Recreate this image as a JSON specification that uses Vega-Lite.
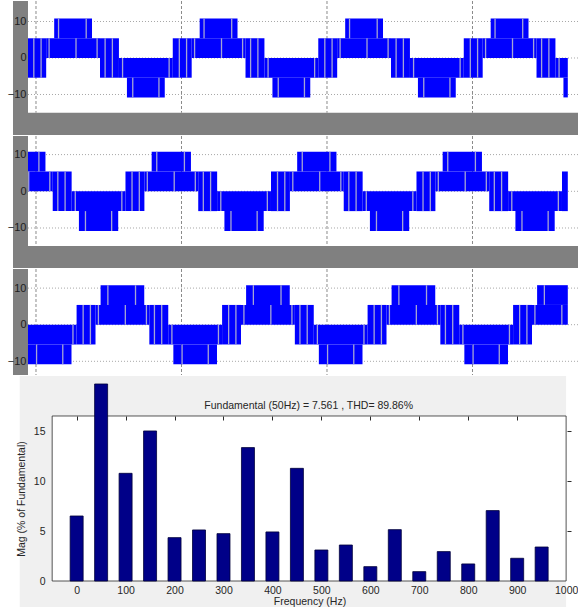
{
  "$schema": "https://vega.github.io/schema/vega-lite/v6.json",
  "background": "white",
  "padding": 0,
  "spacing": 0,
  "config": {"font": "Liberation Sans", "view": {"stroke": null}, "axis": {"zindex": 1}},
  "datasets": {
    "gridt": [{"t": 0}, {"t": 1}, {"t": 2}, {"t": 3}],
    "gridy": [{"v": 10}, {"v": 0}, {"v": -10}],
    "blocks": [
      {"p":1,"a":-0.055,"b":0.07,"lo":-5.4,"hi":5.4},
      {"p":1,"a":0.07,"b":0.44,"lo":0,"hi":5.4},
      {"p":1,"a":0.125,"b":0.385,"lo":5.4,"hi":10.8},
      {"p":1,"a":0.44,"b":0.57,"lo":-5.4,"hi":5.4},
      {"p":1,"a":0.57,"b":0.94,"lo":-5.4,"hi":0},
      {"p":1,"a":0.625,"b":0.885,"lo":-10.8,"hi":-5.4},
      {"p":1,"a":0.94,"b":1.07,"lo":-5.4,"hi":5.4},
      {"p":1,"a":1.07,"b":1.44,"lo":0,"hi":5.4},
      {"p":1,"a":1.125,"b":1.385,"lo":5.4,"hi":10.8},
      {"p":1,"a":1.44,"b":1.57,"lo":-5.4,"hi":5.4},
      {"p":1,"a":1.57,"b":1.94,"lo":-5.4,"hi":0},
      {"p":1,"a":1.625,"b":1.885,"lo":-10.8,"hi":-5.4},
      {"p":1,"a":1.94,"b":2.07,"lo":-5.4,"hi":5.4},
      {"p":1,"a":2.07,"b":2.44,"lo":0,"hi":5.4},
      {"p":1,"a":2.125,"b":2.385,"lo":5.4,"hi":10.8},
      {"p":1,"a":2.44,"b":2.57,"lo":-5.4,"hi":5.4},
      {"p":1,"a":2.57,"b":2.94,"lo":-5.4,"hi":0},
      {"p":1,"a":2.625,"b":2.885,"lo":-10.8,"hi":-5.4},
      {"p":1,"a":2.94,"b":3.07,"lo":-5.4,"hi":5.4},
      {"p":1,"a":3.07,"b":3.44,"lo":0,"hi":5.4},
      {"p":1,"a":3.125,"b":3.385,"lo":5.4,"hi":10.8},
      {"p":1,"a":3.44,"b":3.57,"lo":-5.4,"hi":5.4},
      {"p":1,"a":3.57,"b":3.655,"lo":-5.4,"hi":0},
      {"p":1,"a":3.625,"b":3.655,"lo":-10.8,"hi":-5.4},
      {"p":2,"a":-0.055,"b":0.115,"lo":0,"hi":5.4},
      {"p":2,"a":-0.055,"b":0.065,"lo":5.4,"hi":10.8},
      {"p":2,"a":0.115,"b":0.245,"lo":-5.4,"hi":5.4},
      {"p":2,"a":0.245,"b":0.615,"lo":-5.4,"hi":0},
      {"p":2,"a":0.295,"b":0.565,"lo":-10.8,"hi":-5.4},
      {"p":2,"a":0.615,"b":0.745,"lo":-5.4,"hi":5.4},
      {"p":2,"a":0.745,"b":1.115,"lo":0,"hi":5.4},
      {"p":2,"a":0.795,"b":1.065,"lo":5.4,"hi":10.8},
      {"p":2,"a":1.115,"b":1.245,"lo":-5.4,"hi":5.4},
      {"p":2,"a":1.245,"b":1.615,"lo":-5.4,"hi":0},
      {"p":2,"a":1.295,"b":1.565,"lo":-10.8,"hi":-5.4},
      {"p":2,"a":1.615,"b":1.745,"lo":-5.4,"hi":5.4},
      {"p":2,"a":1.745,"b":2.115,"lo":0,"hi":5.4},
      {"p":2,"a":1.795,"b":2.065,"lo":5.4,"hi":10.8},
      {"p":2,"a":2.115,"b":2.245,"lo":-5.4,"hi":5.4},
      {"p":2,"a":2.245,"b":2.615,"lo":-5.4,"hi":0},
      {"p":2,"a":2.295,"b":2.565,"lo":-10.8,"hi":-5.4},
      {"p":2,"a":2.615,"b":2.745,"lo":-5.4,"hi":5.4},
      {"p":2,"a":2.745,"b":3.115,"lo":0,"hi":5.4},
      {"p":2,"a":2.795,"b":3.065,"lo":5.4,"hi":10.8},
      {"p":2,"a":3.115,"b":3.245,"lo":-5.4,"hi":5.4},
      {"p":2,"a":3.245,"b":3.615,"lo":-5.4,"hi":0},
      {"p":2,"a":3.295,"b":3.565,"lo":-10.8,"hi":-5.4},
      {"p":2,"a":3.615,"b":3.655,"lo":-5.4,"hi":5.4},
      {"p":3,"a":-0.055,"b":0.279,"lo":-5.4,"hi":0},
      {"p":3,"a":-0.055,"b":0.244,"lo":-10.8,"hi":-5.4},
      {"p":3,"a":0.279,"b":0.409,"lo":-5.4,"hi":5.4},
      {"p":3,"a":0.409,"b":0.779,"lo":0,"hi":5.4},
      {"p":3,"a":0.444,"b":0.744,"lo":5.4,"hi":10.8},
      {"p":3,"a":0.779,"b":0.909,"lo":-5.4,"hi":5.4},
      {"p":3,"a":0.909,"b":1.279,"lo":-5.4,"hi":0},
      {"p":3,"a":0.944,"b":1.244,"lo":-10.8,"hi":-5.4},
      {"p":3,"a":1.279,"b":1.409,"lo":-5.4,"hi":5.4},
      {"p":3,"a":1.409,"b":1.779,"lo":0,"hi":5.4},
      {"p":3,"a":1.444,"b":1.744,"lo":5.4,"hi":10.8},
      {"p":3,"a":1.779,"b":1.909,"lo":-5.4,"hi":5.4},
      {"p":3,"a":1.909,"b":2.279,"lo":-5.4,"hi":0},
      {"p":3,"a":1.944,"b":2.244,"lo":-10.8,"hi":-5.4},
      {"p":3,"a":2.279,"b":2.409,"lo":-5.4,"hi":5.4},
      {"p":3,"a":2.409,"b":2.779,"lo":0,"hi":5.4},
      {"p":3,"a":2.444,"b":2.744,"lo":5.4,"hi":10.8},
      {"p":3,"a":2.779,"b":2.909,"lo":-5.4,"hi":5.4},
      {"p":3,"a":2.909,"b":3.279,"lo":-5.4,"hi":0},
      {"p":3,"a":2.944,"b":3.244,"lo":-10.8,"hi":-5.4},
      {"p":3,"a":3.279,"b":3.409,"lo":-5.4,"hi":5.4},
      {"p":3,"a":3.409,"b":3.655,"lo":0,"hi":5.4},
      {"p":3,"a":3.444,"b":3.655,"lo":5.4,"hi":10.8}
    ],
    "stripes": [
      {"p":1,"t":-0.015,"lo":-5.4,"hi":5.4},{"p":1,"t":0.035,"lo":-5.4,"hi":5.4},
      {"p":1,"t":0.155,"lo":5.4,"hi":10.8},{"p":1,"t":0.345,"lo":5.4,"hi":10.8},{"p":1,"t":0.09,"lo":0,"hi":5.4},{"p":1,"t":0.42,"lo":0,"hi":5.4},{"p":1,"t":0.275,"lo":0,"hi":5.4},{"p":1,"t":0.475,"lo":-5.4,"hi":5.4},{"p":1,"t":0.525,"lo":-5.4,"hi":5.4},{"p":1,"t":0.595,"lo":-5.4,"hi":0},{"p":1,"t":0.915,"lo":-5.4,"hi":0},{"p":1,"t":0.665,"lo":-10.8,"hi":-5.4},{"p":1,"t":0.845,"lo":-10.8,"hi":-5.4},{"p":1,"t":0.985,"lo":-5.4,"hi":5.4},{"p":1,"t":1.035,"lo":-5.4,"hi":5.4},
      {"p":1,"t":1.155,"lo":5.4,"hi":10.8},{"p":1,"t":1.345,"lo":5.4,"hi":10.8},{"p":1,"t":1.09,"lo":0,"hi":5.4},{"p":1,"t":1.42,"lo":0,"hi":5.4},{"p":1,"t":1.275,"lo":0,"hi":5.4},{"p":1,"t":1.475,"lo":-5.4,"hi":5.4},{"p":1,"t":1.525,"lo":-5.4,"hi":5.4},{"p":1,"t":1.595,"lo":-5.4,"hi":0},{"p":1,"t":1.915,"lo":-5.4,"hi":0},{"p":1,"t":1.665,"lo":-10.8,"hi":-5.4},{"p":1,"t":1.845,"lo":-10.8,"hi":-5.4},{"p":1,"t":1.985,"lo":-5.4,"hi":5.4},{"p":1,"t":2.035,"lo":-5.4,"hi":5.4},
      {"p":1,"t":2.155,"lo":5.4,"hi":10.8},{"p":1,"t":2.345,"lo":5.4,"hi":10.8},{"p":1,"t":2.09,"lo":0,"hi":5.4},{"p":1,"t":2.42,"lo":0,"hi":5.4},{"p":1,"t":2.275,"lo":0,"hi":5.4},{"p":1,"t":2.475,"lo":-5.4,"hi":5.4},{"p":1,"t":2.525,"lo":-5.4,"hi":5.4},{"p":1,"t":2.595,"lo":-5.4,"hi":0},{"p":1,"t":2.915,"lo":-5.4,"hi":0},{"p":1,"t":2.665,"lo":-10.8,"hi":-5.4},{"p":1,"t":2.845,"lo":-10.8,"hi":-5.4},{"p":1,"t":2.985,"lo":-5.4,"hi":5.4},{"p":1,"t":3.035,"lo":-5.4,"hi":5.4},
      {"p":1,"t":3.155,"lo":5.4,"hi":10.8},{"p":1,"t":3.345,"lo":5.4,"hi":10.8},{"p":1,"t":3.09,"lo":0,"hi":5.4},{"p":1,"t":3.42,"lo":0,"hi":5.4},{"p":1,"t":3.275,"lo":0,"hi":5.4},{"p":1,"t":3.475,"lo":-5.4,"hi":5.4},{"p":1,"t":3.525,"lo":-5.4,"hi":5.4},{"p":1,"t":3.595,"lo":-5.4,"hi":0},
      {"p":2,"t":0.02,"lo":5.4,"hi":10.8},{"p":2,"t":0.095,"lo":0,"hi":5.4},{"p":2,"t":-0.05,"lo":0,"hi":5.4},{"p":2,"t":0.15,"lo":-5.4,"hi":5.4},{"p":2,"t":0.2,"lo":-5.4,"hi":5.4},{"p":2,"t":0.27,"lo":-5.4,"hi":0},{"p":2,"t":0.59,"lo":-5.4,"hi":0},{"p":2,"t":0.34,"lo":-10.8,"hi":-5.4},{"p":2,"t":0.52,"lo":-10.8,"hi":-5.4},{"p":2,"t":0.66,"lo":-5.4,"hi":5.4},{"p":2,"t":0.71,"lo":-5.4,"hi":5.4},
      {"p":2,"t":0.83,"lo":5.4,"hi":10.8},{"p":2,"t":1.02,"lo":5.4,"hi":10.8},{"p":2,"t":0.765,"lo":0,"hi":5.4},{"p":2,"t":1.095,"lo":0,"hi":5.4},{"p":2,"t":0.95,"lo":0,"hi":5.4},{"p":2,"t":1.15,"lo":-5.4,"hi":5.4},{"p":2,"t":1.2,"lo":-5.4,"hi":5.4},{"p":2,"t":1.27,"lo":-5.4,"hi":0},{"p":2,"t":1.59,"lo":-5.4,"hi":0},{"p":2,"t":1.34,"lo":-10.8,"hi":-5.4},{"p":2,"t":1.52,"lo":-10.8,"hi":-5.4},{"p":2,"t":1.66,"lo":-5.4,"hi":5.4},{"p":2,"t":1.71,"lo":-5.4,"hi":5.4},
      {"p":2,"t":1.83,"lo":5.4,"hi":10.8},{"p":2,"t":2.02,"lo":5.4,"hi":10.8},{"p":2,"t":1.765,"lo":0,"hi":5.4},{"p":2,"t":2.095,"lo":0,"hi":5.4},{"p":2,"t":1.95,"lo":0,"hi":5.4},{"p":2,"t":2.15,"lo":-5.4,"hi":5.4},{"p":2,"t":2.2,"lo":-5.4,"hi":5.4},{"p":2,"t":2.27,"lo":-5.4,"hi":0},{"p":2,"t":2.59,"lo":-5.4,"hi":0},{"p":2,"t":2.34,"lo":-10.8,"hi":-5.4},{"p":2,"t":2.52,"lo":-10.8,"hi":-5.4},{"p":2,"t":2.66,"lo":-5.4,"hi":5.4},{"p":2,"t":2.71,"lo":-5.4,"hi":5.4},
      {"p":2,"t":2.83,"lo":5.4,"hi":10.8},{"p":2,"t":3.02,"lo":5.4,"hi":10.8},{"p":2,"t":2.765,"lo":0,"hi":5.4},{"p":2,"t":3.095,"lo":0,"hi":5.4},{"p":2,"t":2.95,"lo":0,"hi":5.4},{"p":2,"t":3.15,"lo":-5.4,"hi":5.4},{"p":2,"t":3.2,"lo":-5.4,"hi":5.4},{"p":2,"t":3.27,"lo":-5.4,"hi":0},{"p":2,"t":3.59,"lo":-5.4,"hi":0},{"p":2,"t":3.34,"lo":-10.8,"hi":-5.4},{"p":2,"t":3.52,"lo":-10.8,"hi":-5.4},
      {"p":3,"t":0.254,"lo":-5.4,"hi":0},{"p":3,"t":0.004,"lo":-10.8,"hi":-5.4},{"p":3,"t":0.184,"lo":-10.8,"hi":-5.4},{"p":3,"t":0.324,"lo":-5.4,"hi":5.4},{"p":3,"t":0.374,"lo":-5.4,"hi":5.4},
      {"p":3,"t":0.494,"lo":5.4,"hi":10.8},{"p":3,"t":0.684,"lo":5.4,"hi":10.8},{"p":3,"t":0.429,"lo":0,"hi":5.4},{"p":3,"t":0.759,"lo":0,"hi":5.4},{"p":3,"t":0.614,"lo":0,"hi":5.4},{"p":3,"t":0.814,"lo":-5.4,"hi":5.4},{"p":3,"t":0.864,"lo":-5.4,"hi":5.4},{"p":3,"t":0.934,"lo":-5.4,"hi":0},{"p":3,"t":1.254,"lo":-5.4,"hi":0},{"p":3,"t":1.004,"lo":-10.8,"hi":-5.4},{"p":3,"t":1.184,"lo":-10.8,"hi":-5.4},{"p":3,"t":1.324,"lo":-5.4,"hi":5.4},{"p":3,"t":1.374,"lo":-5.4,"hi":5.4},
      {"p":3,"t":1.494,"lo":5.4,"hi":10.8},{"p":3,"t":1.684,"lo":5.4,"hi":10.8},{"p":3,"t":1.429,"lo":0,"hi":5.4},{"p":3,"t":1.759,"lo":0,"hi":5.4},{"p":3,"t":1.614,"lo":0,"hi":5.4},{"p":3,"t":1.814,"lo":-5.4,"hi":5.4},{"p":3,"t":1.864,"lo":-5.4,"hi":5.4},{"p":3,"t":1.934,"lo":-5.4,"hi":0},{"p":3,"t":2.254,"lo":-5.4,"hi":0},{"p":3,"t":2.004,"lo":-10.8,"hi":-5.4},{"p":3,"t":2.184,"lo":-10.8,"hi":-5.4},{"p":3,"t":2.324,"lo":-5.4,"hi":5.4},{"p":3,"t":2.374,"lo":-5.4,"hi":5.4},
      {"p":3,"t":2.494,"lo":5.4,"hi":10.8},{"p":3,"t":2.684,"lo":5.4,"hi":10.8},{"p":3,"t":2.429,"lo":0,"hi":5.4},{"p":3,"t":2.759,"lo":0,"hi":5.4},{"p":3,"t":2.614,"lo":0,"hi":5.4},{"p":3,"t":2.814,"lo":-5.4,"hi":5.4},{"p":3,"t":2.864,"lo":-5.4,"hi":5.4},{"p":3,"t":2.934,"lo":-5.4,"hi":0},{"p":3,"t":3.254,"lo":-5.4,"hi":0},{"p":3,"t":3.004,"lo":-10.8,"hi":-5.4},{"p":3,"t":3.184,"lo":-10.8,"hi":-5.4},{"p":3,"t":3.324,"lo":-5.4,"hi":5.4},{"p":3,"t":3.374,"lo":-5.4,"hi":5.4},
      {"p":3,"t":3.494,"lo":5.4,"hi":10.8},{"p":3,"t":3.429,"lo":0,"hi":5.4},{"p":3,"t":3.614,"lo":0,"hi":5.4}
    ],
    "fft": [
      {"f":0,"mag":6.52},{"f":50,"mag":19.76},{"f":100,"mag":10.8},{"f":150,"mag":15.05},
      {"f":200,"mag":4.35},{"f":250,"mag":5.12},{"f":300,"mag":4.75},{"f":350,"mag":13.38},
      {"f":400,"mag":4.92},{"f":450,"mag":11.3},{"f":500,"mag":3.11},{"f":550,"mag":3.61},
      {"f":600,"mag":1.44},{"f":650,"mag":5.15},{"f":700,"mag":0.94},{"f":750,"mag":2.95},
      {"f":800,"mag":1.71},{"f":850,"mag":7.06},{"f":900,"mag":2.28},{"f":950,"mag":3.41}
    ]
  },
  "vconcat": [
    {
      "spacing": 0,
      "vconcat": [
        {
          "width": 578, "height": 134,
          "view": {"fill": "#808080", "stroke": null},
          "resolve": {"axis": {"x": "independent", "y": "independent"}},
          "layer": [
            {"data": {"values": [{}]}, "mark": {"type": "rect", "color": "white"},
             "encoding": {
               "x": {"datum": -0.055, "type": "quantitative", "scale": {"domain": [-0.2474, 3.7251], "nice": false, "zero": false}, "axis": null},
               "x2": {"datum": 3.7251},
               "y": {"datum": 15.616, "type": "quantitative", "scale": {"domain": [-21.096, 15.616], "nice": false, "zero": false},
                     "axis": {"orient": "left", "offset": -28, "values": [10, 0, -10], "tickSize": 0, "labelPadding": 2, "domain": false, "grid": false, "title": null, "labelFontSize": 11, "labelColor": "#1e1e1e", "labelFlush": false, "labelOverlap": false, "zindex": 2}},
               "y2": {"datum": -15}}},
            {"data": {"values": [{}]}, "mark": {"type": "rect", "color": "white"},
             "encoding": {
               "x": {"datum": -0.2474, "type": "quantitative", "scale": {"domain": [-0.2474, 3.7251], "nice": false, "zero": false}, "axis": null},
               "x2": {"datum": -0.1581},
               "y": {"datum": 15.616, "type": "quantitative", "scale": {"domain": [-21.096, 15.616], "nice": false, "zero": false}, "axis": null},
               "y2": {"datum": -21.096}}},
            {"data": {"name": "gridt"}, "mark": {"type": "rule", "color": "#8a8a8a", "strokeDash": [3, 2], "strokeWidth": 1},
             "encoding": {
               "x": {"field": "t", "type": "quantitative", "scale": {"domain": [-0.2474, 3.7251], "nice": false, "zero": false}, "axis": null},
               "y": {"datum": 15.616, "type": "quantitative", "scale": {"domain": [-21.096, 15.616], "nice": false, "zero": false}, "axis": null},
               "y2": {"datum": -15}}},
            {"data": {"name": "gridy"}, "mark": {"type": "rule", "color": "#a6a6a6", "strokeDash": [1, 2], "strokeWidth": 1},
             "encoding": {
               "y": {"field": "v", "type": "quantitative", "scale": {"domain": [-21.096, 15.616], "nice": false, "zero": false}, "axis": null},
               "x": {"datum": -0.055, "type": "quantitative", "scale": {"domain": [-0.2474, 3.7251], "nice": false, "zero": false}, "axis": null},
               "x2": {"datum": 3.7251}}},
            {"data": {"name": "blocks"}, "transform": [{"filter": "datum.p == 1"}], "mark": {"type": "rect", "color": "#0000ff"},
             "encoding": {
               "x": {"field": "a", "type": "quantitative", "scale": {"domain": [-0.2474, 3.7251], "nice": false, "zero": false}, "axis": null},
               "x2": {"field": "b"},
               "y": {"field": "lo", "type": "quantitative", "scale": {"domain": [-21.096, 15.616], "nice": false, "zero": false}, "axis": null},
               "y2": {"field": "hi"}}},
            {"data": {"name": "stripes"}, "transform": [{"filter": "datum.p == 1"}], "mark": {"type": "rule", "color": "#a4a4d4", "strokeWidth": 1.3},
             "encoding": {
               "x": {"field": "t", "type": "quantitative", "scale": {"domain": [-0.2474, 3.7251], "nice": false, "zero": false}, "axis": null},
               "y": {"field": "lo", "type": "quantitative", "scale": {"domain": [-21.096, 15.616], "nice": false, "zero": false}, "axis": null},
               "y2": {"field": "hi"}}}
          ]
        },
        {
          "width": 578, "height": 132,
          "view": {"fill": "#808080", "stroke": null},
          "resolve": {"axis": {"x": "independent", "y": "independent"}},
          "layer": [
            {"data": {"values": [{}]}, "mark": {"type": "rect", "color": "white"},
             "encoding": {
               "x": {"datum": -0.055, "type": "quantitative", "scale": {"domain": [-0.2474, 3.7251], "nice": false, "zero": false}, "axis": null},
               "x2": {"datum": 3.7251},
               "y": {"datum": 15.068, "type": "quantitative", "scale": {"domain": [-20.9, 15.068], "nice": false, "zero": false},
                     "axis": {"orient": "left", "offset": -28, "values": [10, 0, -10], "tickSize": 0, "labelPadding": 2, "domain": false, "grid": false, "title": null, "labelFontSize": 11, "labelColor": "#1e1e1e", "labelFlush": false, "labelOverlap": false, "zindex": 2}},
               "y2": {"datum": -14.905}}},
            {"data": {"values": [{}]}, "mark": {"type": "rect", "color": "white"},
             "encoding": {
               "x": {"datum": -0.2474, "type": "quantitative", "scale": {"domain": [-0.2474, 3.7251], "nice": false, "zero": false}, "axis": null},
               "x2": {"datum": -0.1581},
               "y": {"datum": 15.068, "type": "quantitative", "scale": {"domain": [-20.9, 15.068], "nice": false, "zero": false}, "axis": null},
               "y2": {"datum": -20.9}}},
            {"data": {"name": "gridt"}, "mark": {"type": "rule", "color": "#8a8a8a", "strokeDash": [3, 2], "strokeWidth": 1},
             "encoding": {
               "x": {"field": "t", "type": "quantitative", "scale": {"domain": [-0.2474, 3.7251], "nice": false, "zero": false}, "axis": null},
               "y": {"datum": 15.068, "type": "quantitative", "scale": {"domain": [-20.9, 15.068], "nice": false, "zero": false}, "axis": null},
               "y2": {"datum": -14.905}}},
            {"data": {"name": "gridy"}, "mark": {"type": "rule", "color": "#a6a6a6", "strokeDash": [1, 2], "strokeWidth": 1},
             "encoding": {
               "y": {"field": "v", "type": "quantitative", "scale": {"domain": [-20.9, 15.068], "nice": false, "zero": false}, "axis": null},
               "x": {"datum": -0.055, "type": "quantitative", "scale": {"domain": [-0.2474, 3.7251], "nice": false, "zero": false}, "axis": null},
               "x2": {"datum": 3.7251}}},
            {"data": {"name": "blocks"}, "transform": [{"filter": "datum.p == 2"}], "mark": {"type": "rect", "color": "#0000ff"},
             "encoding": {
               "x": {"field": "a", "type": "quantitative", "scale": {"domain": [-0.2474, 3.7251], "nice": false, "zero": false}, "axis": null},
               "x2": {"field": "b"},
               "y": {"field": "lo", "type": "quantitative", "scale": {"domain": [-20.9, 15.068], "nice": false, "zero": false}, "axis": null},
               "y2": {"field": "hi"}}},
            {"data": {"name": "stripes"}, "transform": [{"filter": "datum.p == 2"}], "mark": {"type": "rule", "color": "#a4a4d4", "strokeWidth": 1.3},
             "encoding": {
               "x": {"field": "t", "type": "quantitative", "scale": {"domain": [-0.2474, 3.7251], "nice": false, "zero": false}, "axis": null},
               "y": {"field": "lo", "type": "quantitative", "scale": {"domain": [-20.9, 15.068], "nice": false, "zero": false}, "axis": null},
               "y2": {"field": "hi"}}}
          ]
        },
        {
          "width": 578, "height": 106,
          "view": {"fill": "#808080", "stroke": null},
          "resolve": {"axis": {"x": "independent", "y": "independent"}},
          "layer": [
            {"data": {"values": [{}]}, "mark": {"type": "rect", "color": "white"},
             "encoding": {
               "x": {"datum": -0.055, "type": "quantitative", "scale": {"domain": [-0.2474, 3.7251], "nice": false, "zero": false}, "axis": null},
               "x2": {"datum": 3.7251},
               "y": {"datum": 15.219, "type": "quantitative", "scale": {"domain": [-13.743, 15.219], "nice": false, "zero": false},
                     "axis": {"orient": "left", "offset": -28, "values": [10, 0, -10], "tickSize": 0, "labelPadding": 2, "domain": false, "grid": false, "title": null, "labelFontSize": 11, "labelColor": "#1e1e1e", "labelFlush": false, "labelOverlap": false, "zindex": 2}},
               "y2": {"datum": -13.743}}},
            {"data": {"values": [{}]}, "mark": {"type": "rect", "color": "white"},
             "encoding": {
               "x": {"datum": -0.2474, "type": "quantitative", "scale": {"domain": [-0.2474, 3.7251], "nice": false, "zero": false}, "axis": null},
               "x2": {"datum": -0.1581},
               "y": {"datum": 15.219, "type": "quantitative", "scale": {"domain": [-13.743, 15.219], "nice": false, "zero": false}, "axis": null},
               "y2": {"datum": -13.743}}},
            {"data": {"name": "gridt"}, "mark": {"type": "rule", "color": "#8a8a8a", "strokeDash": [3, 2], "strokeWidth": 1},
             "encoding": {
               "x": {"field": "t", "type": "quantitative", "scale": {"domain": [-0.2474, 3.7251], "nice": false, "zero": false}, "axis": null},
               "y": {"datum": 15.219, "type": "quantitative", "scale": {"domain": [-13.743, 15.219], "nice": false, "zero": false}, "axis": null},
               "y2": {"datum": -13.743}}},
            {"data": {"name": "gridy"}, "mark": {"type": "rule", "color": "#a6a6a6", "strokeDash": [1, 2], "strokeWidth": 1},
             "encoding": {
               "y": {"field": "v", "type": "quantitative", "scale": {"domain": [-13.743, 15.219], "nice": false, "zero": false}, "axis": null},
               "x": {"datum": -0.055, "type": "quantitative", "scale": {"domain": [-0.2474, 3.7251], "nice": false, "zero": false}, "axis": null},
               "x2": {"datum": 3.7251}}},
            {"data": {"name": "blocks"}, "transform": [{"filter": "datum.p == 3"}], "mark": {"type": "rect", "color": "#0000ff"},
             "encoding": {
               "x": {"field": "a", "type": "quantitative", "scale": {"domain": [-0.2474, 3.7251], "nice": false, "zero": false}, "axis": null},
               "x2": {"field": "b"},
               "y": {"field": "lo", "type": "quantitative", "scale": {"domain": [-13.743, 15.219], "nice": false, "zero": false}, "axis": null},
               "y2": {"field": "hi"}}},
            {"data": {"name": "stripes"}, "transform": [{"filter": "datum.p == 3"}], "mark": {"type": "rule", "color": "#a4a4d4", "strokeWidth": 1.3},
             "encoding": {
               "x": {"field": "t", "type": "quantitative", "scale": {"domain": [-0.2474, 3.7251], "nice": false, "zero": false}, "axis": null},
               "y": {"field": "lo", "type": "quantitative", "scale": {"domain": [-13.743, 15.219], "nice": false, "zero": false}, "axis": null},
               "y2": {"field": "hi"}}}
          ]
        }
      ]
    },
    {
      "width": 578, "height": 235,
      "view": {"stroke": null},
      "resolve": {"axis": {"x": "independent", "y": "independent"}},
      "layer": [
        {"data": {"values": [{}]}, "mark": {"type": "rect", "color": "#f0f0f0"},
         "encoding": {
           "x": {"datum": -116.26, "type": "quantitative", "scale": {"domain": [-146.37, 1014.05], "nice": false, "zero": false}, "axis": null},
           "x2": {"datum": 1000},
           "y": {"datum": 20.562, "type": "quantitative", "scale": {"domain": [-3.009, 20.562], "nice": false, "zero": false}, "axis": null},
           "y2": {"datum": -3.009}}},
        {"data": {"values": [{}]}, "mark": {"type": "rect", "fill": "white", "stroke": "#2a2a2a", "strokeWidth": 0.8},
         "encoding": {
           "x": {"datum": -50, "type": "quantitative", "scale": {"domain": [-146.37, 1014.05], "nice": false, "zero": false},
                 "axis": {"orient": "top", "offset": -40, "values": [0, 100, 200, 300, 400, 500, 600, 700, 800, 900], "tickSize": -4, "tickColor": "#2a2a2a", "labels": false, "domain": false, "grid": false, "title": null, "zindex": 2}},
           "x2": {"datum": 1000},
           "y": {"datum": 16.55, "type": "quantitative", "scale": {"domain": [-3.009, 20.562], "nice": false, "zero": false},
                 "axis": {"orient": "right", "offset": -7, "values": [5, 10, 15], "tickSize": -4, "tickColor": "#2a2a2a", "labels": false, "domain": false, "grid": false, "title": null, "zindex": 2}},
           "y2": {"datum": 0}}},
        {"data": {"name": "fft"}, "mark": {"type": "bar", "size": 13, "fill": "#000088", "stroke": "#00003a", "strokeWidth": 0.8, "clip": false},
         "encoding": {
           "x": {"field": "f", "type": "quantitative", "scale": {"domain": [-146.37, 1014.05], "nice": false, "zero": false},
                 "axis": {"orient": "bottom", "offset": -30, "values": [0, 100, 200, 300, 400, 500, 600, 700, 800, 900, 1000], "format": "d", "tickSize": 0, "labelPadding": 4, "labelFontSize": 10.5, "labelColor": "#262626", "labelFlush": false, "labelOverlap": false, "domain": false, "grid": false, "zindex": 2,
                          "title": "Frequency (Hz)", "titleFontSize": 10.5, "titleFontWeight": "normal", "titleColor": "#262626", "titleX": 309.5, "titleY": 15, "titleBaseline": "top", "titleAlign": "center"}},
           "y": {"field": "mag", "type": "quantitative", "scale": {"domain": [-3.009, 20.562], "nice": false, "zero": false},
                 "axis": {"orient": "left", "offset": -48, "values": [0, 5, 10, 15], "tickSize": 0, "labelPadding": 3, "labelFontSize": 10.5, "labelColor": "#262626", "labelFlush": false, "labelOverlap": false, "domain": false, "grid": false, "zindex": 2,
                          "title": "Mag (% of Fundamental)", "titleFontSize": 10.5, "titleFontWeight": "normal", "titleColor": "#262626", "titleAngle": 270, "titleX": -27, "titleY": 122.5, "titleBaseline": "middle", "titleAlign": "center"}}}},
        {"data": {"values": [{}]}, "mark": {"type": "text", "text": "Fundamental (50Hz) = 7.561 , THD= 89.86%", "fontSize": 10.5, "color": "#262626", "align": "center", "baseline": "middle"},
         "encoding": {
           "x": {"datum": 474, "type": "quantitative", "scale": {"domain": [-146.37, 1014.05], "nice": false, "zero": false}, "axis": null},
           "y": {"datum": 17.6, "type": "quantitative", "scale": {"domain": [-3.009, 20.562], "nice": false, "zero": false}, "axis": null}}}
      ]
    }
  ]
}
